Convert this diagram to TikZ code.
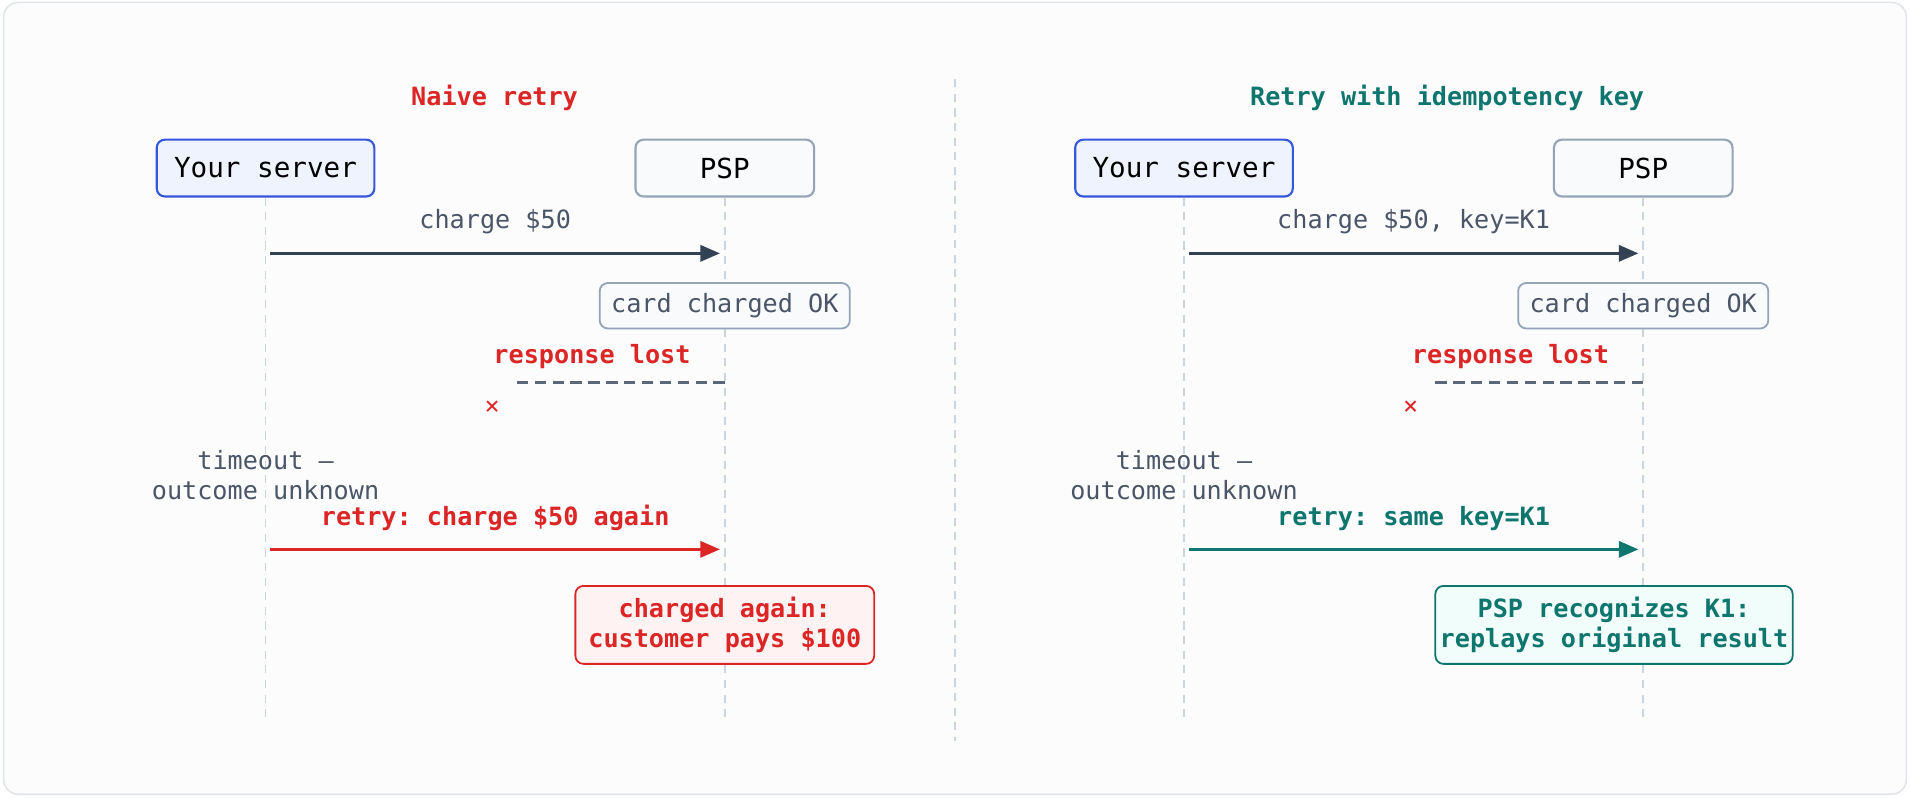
\documentclass[tikz,border=0pt]{standalone}
\usepackage{fontspec}
\setmonofont{DejaVu Sans Mono}
\usetikzlibrary{arrows.meta,positioning}
\definecolor{frame}{HTML}{E2E5EA}
\definecolor{paper}{HTML}{FCFCFD}
\definecolor{life}{HTML}{CBD5E1}
\definecolor{ink}{HTML}{334155}
\definecolor{muted}{HTML}{4B5568}
\definecolor{slate}{HTML}{94A3B8}
\definecolor{srvfill}{HTML}{EEF3FE}
\definecolor{srvline}{HTML}{3656DB}
\definecolor{pspfill}{HTML}{F8FAFC}
\definecolor{bad}{HTML}{DC2626}
\definecolor{badfill}{HTML}{FEF2F2}
\definecolor{good}{HTML}{0F766E}
\definecolor{goodfill}{HTML}{F0FDFA}
\tikzset{
	x=0.75pt, y=-0.75pt,
	every node/.style={font=\ttfamily\fontsize{15.5}{19}\selectfont, inner sep=0pt},
	actor/.style={draw, rounded corners=5pt, line width=1.3pt, minimum height=35pt,
			font=\ttfamily\fontsize{17}{20}\selectfont},
	server/.style={actor, fill=srvfill, draw=srvline, minimum width=134pt},
	psp/.style={actor, fill=pspfill, draw=slate, minimum width=110pt},
	note/.style={draw=slate, fill=pspfill, rounded corners=5pt, line width=1.1pt,
			text=muted, minimum width=154pt, minimum height=28pt},
	result/.style={rounded corners=5pt, line width=1.1pt, align=center,
			font=\ttfamily\bfseries\fontsize{15.5}{19}\selectfont,
			minimum height=48pt},
	lifeline/.style={life, line width=1.1pt, dash pattern=on 5pt off 4pt},
	msg/.style={-{Triangle[length=12pt,width=10pt]}, line width=1.5pt},
	lbl/.style={text=muted},
	hot/.style={font=\ttfamily\bfseries\fontsize{15.5}{19}\selectfont},
}
\begin{document}
\begin{tikzpicture}
	\useasboundingbox (0,0) rectangle (1568,655);
	\draw[frame, fill=paper, line width=1pt, rounded corners=9pt] (3,2) rectangle (1565,652);
	\draw[lifeline] (784,65) -- (784,608);

	% naive retry
	\node[hot, text=bad] (title1) at (406,80) {Naive retry};
	\node[server] (srv1) at (218,138) {Your server};
	\node[psp] (psp1) at (595,138) {PSP};
	\coordinate (srvend1) at (218,590);
	\coordinate (pspend1) at (595,590);
	\draw[lifeline] (srv1) -- (srvend1);
	\draw[lifeline] (psp1) -- (pspend1);
	\coordinate (s1a) at (222,208);
	\coordinate (p1a) at (591,208);
	\draw[msg, ink] (s1a) -- (p1a) node[midway, above=11pt, lbl] {charge \$50};
	\node[note] (ok1) at (595,251) {card charged OK};
	\coordinate (p1b) at (595,314);
	\coordinate (s1b) at (423,314);
	\draw[ink!80, line width=1.3pt, dash pattern=on 7pt off 4pt] (p1b) -- (s1b);
	\node[hot, text=bad] (lost1) at (486,293) {response lost};
	\node[text=bad] (x1) at (404,335) {×};
	\node[lbl, align=center] (tmo1) at (218,390) {timeout —\\outcome unknown};
	\coordinate (s1c) at (222,451);
	\coordinate (p1c) at (591,451);
	\draw[msg, bad] (s1c) -- (p1c) node[midway, above=11pt, hot, text=bad] {retry: charge \$50 again};
	\node[result, draw=bad, fill=badfill, text=bad, minimum width=184pt] (res1) at (595,513)
	{charged again:\\customer pays \$100};

	% retry with idempotency key
	\node[hot, text=good] (title2) at (1188,80) {Retry with idempotency key};
	\node[server] (srv2) at (972,138) {Your server};
	\node[psp] (psp2) at (1349,138) {PSP};
	\coordinate (srvend2) at (972,590);
	\coordinate (pspend2) at (1349,590);
	\draw[lifeline] (srv2) -- (srvend2);
	\draw[lifeline] (psp2) -- (pspend2);
	\coordinate (s2a) at (976,208);
	\coordinate (p2a) at (1345,208);
	\draw[msg, ink] (s2a) -- (p2a) node[midway, above=11pt, lbl] {charge \$50, key=K1};
	\node[note] (ok2) at (1349,251) {card charged OK};
	\coordinate (p2b) at (1349,314);
	\coordinate (s2b) at (1177,314);
	\draw[ink!80, line width=1.3pt, dash pattern=on 7pt off 4pt] (p2b) -- (s2b);
	\node[hot, text=bad] (lost2) at (1240,293) {response lost};
	\node[text=bad] (x2) at (1158,335) {×};
	\node[lbl, align=center] (tmo2) at (972,390) {timeout —\\outcome unknown};
	\coordinate (s2c) at (976,451);
	\coordinate (p2c) at (1345,451);
	\draw[msg, good] (s2c) -- (p2c) node[midway, above=11pt, hot, text=good] {retry: same key=K1};
	\node[result, draw=good, fill=goodfill, text=good, minimum width=220pt] (res2) at (1325,513)
	{PSP recognizes K1:\\replays original result};
\end{tikzpicture}
\end{document}
